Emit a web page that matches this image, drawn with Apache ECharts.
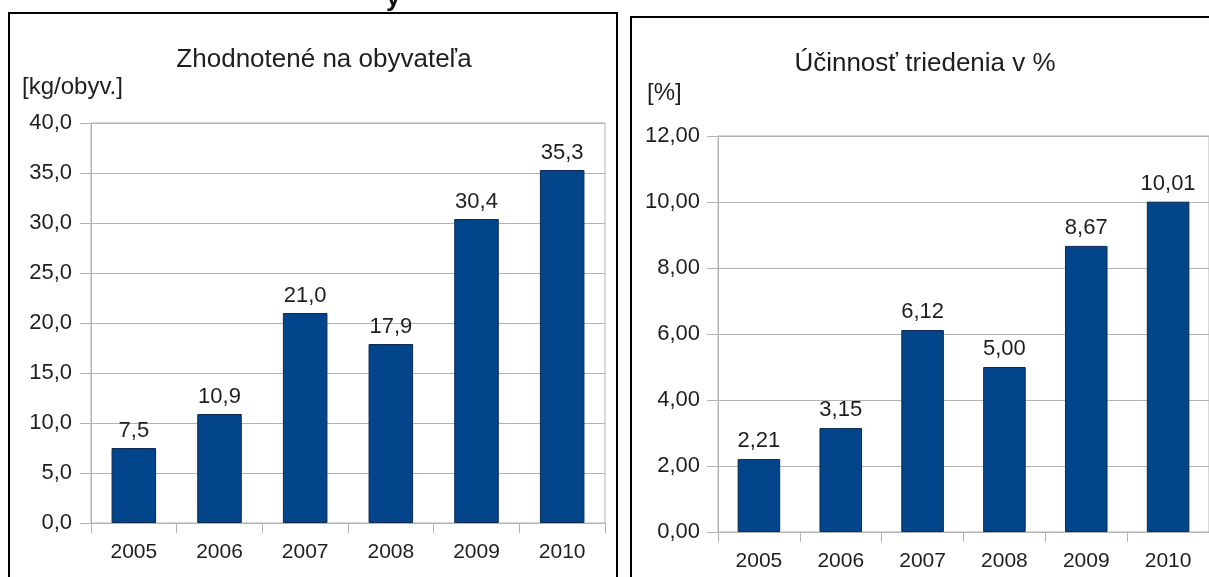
<!DOCTYPE html>
<html>
<head>
<meta charset="utf-8">
<script src="https://cdn.jsdelivr.net/npm/echarts@6/dist/echarts.min.js"></script>
<style>
html,body{margin:0;padding:0;background:#fff;}
#c{width:1209px;height:577px;}
</style>
</head>
<body>
<div id="c"></div>
<script>
const years = ['2005', '2006', '2007', '2008', '2009', '2010'];
const perCapita = [7.5, 10.9, 21.0, 17.9, 30.4, 35.3];
const efficiency = [2.21, 3.15, 6.12, 5.00, 8.67, 10.01];
const leftTitle = 'Zhodnotené na obyvateľa';
const rightTitle = 'Účinnosť triedenia v %';
const leftUnit = '[kg/obyv.]';
const rightUnit = '[%]';

const FONT = 'Liberation Sans';
const TXT = '#1e1e1e';
const GRID = '#b3b3b3';
const BAR = '#03458a';

const fmt = d => v => Number(v).toFixed(d).replace('.', ',');

const chart = echarts.init(document.getElementById('c'));
chart.setOption({
  backgroundColor: '#ffffff',
  animation: false,
  graphic: [
    {type: 'rect', shape: {x: 9, y: 13, width: 608, height: 620}, style: {fill: 'none', stroke: '#000', lineWidth: 2}, z: 10},
    {type: 'rect', shape: {x: 631, y: 17, width: 620, height: 620}, style: {fill: 'none', stroke: '#000', lineWidth: 2}, z: 10},
    {type: 'text', x: 386, y: 12, style: {text: 'y', font: 'bold 26px "Liberation Sans"', fill: '#111', verticalAlign: 'bottom'}},
    {type: 'text', x: 324, y: 60, style: {text: leftTitle, font: '26px "Liberation Sans"', fill: TXT, align: 'center', verticalAlign: 'middle'}},
    {type: 'text', x: 925, y: 64, style: {text: rightTitle, font: '26px "Liberation Sans"', fill: TXT, align: 'center', verticalAlign: 'middle'}},
    {type: 'text', x: 22, y: 87, style: {text: leftUnit, font: '24px "Liberation Sans"', fill: TXT, align: 'left', verticalAlign: 'middle'}},
    {type: 'text', x: 647, y: 93, style: {text: rightUnit, font: '24px "Liberation Sans"', fill: TXT, align: 'left', verticalAlign: 'middle'}}
  ],
  grid: [
    {left: 91, top: 123, width: 514, height: 400, show: true, borderColor: GRID, borderWidth: 1, backgroundColor: '#fff'},
    {left: 718, top: 136, width: 492, height: 396, show: true, borderColor: GRID, borderWidth: 1, backgroundColor: '#fff'}
  ],
  xAxis: [0, 1].map(i => ({
    type: 'category', gridIndex: i, data: years, boundaryGap: true,
    axisLine: {lineStyle: {color: GRID}},
    axisTick: {show: true, length: 10, lineStyle: {color: GRID}},
    axisLabel: {color: TXT, fontFamily: FONT, fontSize: 21, margin: 19}
  })),
  yAxis: [
    {type: 'value', gridIndex: 0, min: 0, max: 40, interval: 5,
     axisLine: {show: true, lineStyle: {color: GRID}},
     axisTick: {show: true, length: 11, lineStyle: {color: GRID}},
     splitLine: {lineStyle: {color: GRID}},
     axisLabel: {color: TXT, fontFamily: FONT, fontSize: 22, margin: 19, formatter: fmt(1)}},
    {type: 'value', gridIndex: 1, min: 0, max: 12, interval: 2,
     axisLine: {show: true, lineStyle: {color: GRID}},
     axisTick: {show: true, length: 11, lineStyle: {color: GRID}},
     splitLine: {lineStyle: {color: GRID}},
     axisLabel: {color: TXT, fontFamily: FONT, fontSize: 22, margin: 18, formatter: fmt(2)}}
  ],
  series: [
    {type: 'bar', xAxisIndex: 0, yAxisIndex: 0, data: perCapita, barWidth: '52%',
     itemStyle: {color: BAR, borderColor: '#0c2a52', borderWidth: 1},
     label: {show: true, position: 'top', distance: 6, color: TXT, fontFamily: FONT, fontSize: 22, formatter: p => fmt(1)(p.value)}},
    {type: 'bar', xAxisIndex: 1, yAxisIndex: 1, data: efficiency, barWidth: '52%',
     itemStyle: {color: BAR, borderColor: '#0c2a52', borderWidth: 1},
     label: {show: true, position: 'top', distance: 7, color: TXT, fontFamily: FONT, fontSize: 22, formatter: p => fmt(2)(p.value)}}
  ]
});
</script>
</body>
</html>
